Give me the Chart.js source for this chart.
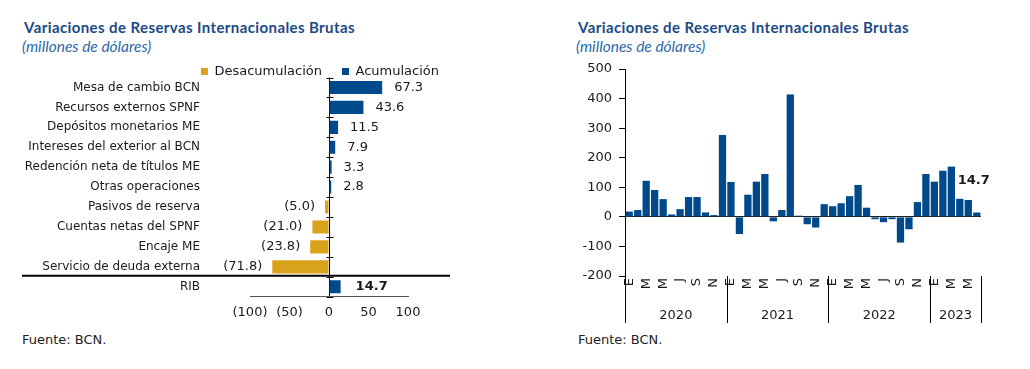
<!DOCTYPE html>
<html><head><meta charset="utf-8">
<script src="https://cdn.jsdelivr.net/npm/chart.js@4/dist/chart.umd.min.js"></script>
<style>
html,body{margin:0;padding:0;background:#fff;width:1030px;height:369px;overflow:hidden;position:relative;}
.t{position:absolute;font-family:Lato,"Open Sans",sans-serif;font-weight:700;font-size:15px;color:#1b4a86;letter-spacing:0.4px;white-space:nowrap;line-height:15px}
.s{position:absolute;font-family:Lato,sans-serif;font-style:italic;font-size:15.5px;color:#2e6aa9;white-space:nowrap;line-height:16px}
.f{position:absolute;font-family:"DejaVu Sans";font-size:13px;color:#222;white-space:nowrap;line-height:13px}
canvas{position:absolute;top:0}
</style></head><body>
<div class="t" style="left:24px;top:20px">Variaciones de Reservas Internacionales Brutas</div>
<div class="s" style="left:22px;top:38px">(millones de dólares)</div>
<div class="t" style="left:578px;top:20px">Variaciones de Reservas Internacionales Brutas</div>
<div class="s" style="left:576px;top:38px">(millones de dólares)</div>
<div class="f" style="left:22px;top:333px">Fuente: BCN.</div>
<div class="f" style="left:578px;top:333px">Fuente: BCN.</div>
<canvas id="cl" width="470" height="369" style="left:0"></canvas>
<canvas id="cr" width="460" height="369" style="left:570px"></canvas>
<script>
// ---- Left chart data ----
const categories = ['Mesa de cambio BCN','Recursos externos SPNF','Depósitos monetarios ME','Intereses del exterior al BCN','Redención neta de títulos ME','Otras operaciones','Pasivos de reserva','Cuentas netas del SPNF','Encaje ME','Servicio de deuda externa','RIB'];
const values = [67.3, 43.6, 11.5, 7.9, 3.3, 2.8, -5.0, -21.0, -23.8, -71.8, 14.7];
const xTickValues = [-100, -50, 0, 50, 100];
const legendLabels = ['Desacumulación', 'Acumulación'];

// ---- Right chart data ----
const months = ['E','F','M','A','M','J','J','A','S','O','N','D',
                'E','F','M','A','M','J','J','A','S','O','N','D',
                'E','F','M','A','M','J','J','A','S','O','N','D',
                'E','F','M','A','M','J'];
const monthlyValues = [18, 23, 122, 91, 60, 8, 26, 67, 67, 15, 6, 277,
                       118, -58, 75, 119, 145, -15, 23, 414, 4, -25, -36, 43,
                       36, 46, 70, 108, 31, -8, -18, -8, -87, -42, 50, 145,
                       119, 156, 170, 61, 57, 14.7];
const years = ['2020', '2021', '2022', '2023'];
const monthsPerYear = [12, 12, 12, 6];
const yTickValues = [-200, -100, 0, 100, 200, 300, 400, 500];

const gold = '#d9a21b', blue = '#00498a', txt = '#1a1a1a';
Chart.defaults.font.family = '"DejaVu Sans", Verdana, sans-serif';
Chart.defaults.color = txt;

const fmt = v => v < 0 ? '(' + Math.abs(v).toFixed(1) + ')' : v.toFixed(1);

const leftPlugin = {
  id: 'leftDeco',
  afterDatasetsDraw(chart) {
    const {ctx, scales: {x, y}} = chart;
    const x0 = Math.round(x.getPixelForValue(0)) + 0.5;
    ctx.save();
    ctx.strokeStyle = '#000'; ctx.lineWidth = 1;
    for (let i = 0; i <= categories.length; i++) {
      const yy = Math.round(y.getPixelForValue(i - 0.5)) + 0.5;
      ctx.beginPath(); ctx.moveTo(x0 - 3, yy); ctx.lineTo(x0 + 4, yy); ctx.stroke();
    }
    const sy = (y.getPixelForValue(categories.length - 2) + y.getPixelForValue(categories.length - 1)) / 2 - 1;
    ctx.lineWidth = 2;
    ctx.beginPath(); ctx.moveTo(22, sy); ctx.lineTo(450, sy); ctx.stroke();
    ctx.fillStyle = txt; ctx.textBaseline = 'middle';
    values.forEach((v, i) => {
      const yy = y.getPixelForValue(i);
      const xe = x.getPixelForValue(v);
      const last = i === values.length - 1;
      ctx.font = (last ? 'bold ' : '') + '13px "DejaVu Sans"';
      if (v < 0) { ctx.textAlign = 'right'; ctx.fillText(fmt(v), xe - 10, yy); }
      else { ctx.textAlign = 'left'; ctx.fillText(fmt(v), xe + (last ? 15 : 12), yy); }
    });
    ctx.restore();
  }
};

new Chart(document.getElementById('cl'), {
  type: 'bar',
  data: {
    labels: categories,
    datasets: [
      {label: legendLabels[0], data: values.map(v => v < 0 ? v : null), backgroundColor: gold, grouped: false, barPercentage: 0.66, categoryPercentage: 1},
      {label: legendLabels[1], data: values.map(v => v >= 0 ? v : null), backgroundColor: blue, grouped: false, barPercentage: 0.66, categoryPercentage: 1}
    ]
  },
  options: {
    indexAxis: 'y', responsive: false, animation: false,
    layout: {padding: {left: 22, right: 11, top: 45, bottom: 0}},
    plugins: {
      legend: {position: 'top', align: 'end', maxHeight: 32.5,
        labels: {boxWidth: 7, boxHeight: 7, padding: 20, color: txt, font: {size: 13}}},
      tooltip: {enabled: false}
    },
    scales: {
      x: {type: 'linear', min: -100, max: 100,
        afterBuildTicks: s => { s.ticks = xTickValues.map(v => ({value: v})); },
        ticks: {callback: v => v < 0 ? '(' + Math.abs(v) + ')' : String(v), padding: 8, font: {size: 13}, color: txt,
          autoSkip: false, maxRotation: 0, minRotation: 0},
        grid: {drawTicks: false, color: c => (c.tick && c.tick.value === 0) ? '#000' : 'rgba(0,0,0,0)'},
        border: {display: true, color: '#555'},
        afterFit: s => { s.height = 369 - 296.7; }
      },
      y: {type: 'category',
        grid: {display: false, drawTicks: false}, border: {display: false},
        ticks: {padding: 50, font: {size: 12}, color: txt},
        afterFit: s => { s.width = 228; }
      },
      yR: {type: 'category', position: 'right',
        grid: {display: false, drawTicks: false}, border: {display: false},
        ticks: {display: false},
        afterFit: s => { s.width = 51; }
      }
    }
  },
  plugins: [leftPlugin]
});

const rightPlugin = {
  id: 'rightDeco',
  afterDraw(chart) {
    const {ctx, chartArea: ca, scales: {x, y}} = chart;
    ctx.save();
    ctx.strokeStyle = '#000'; ctx.lineWidth = 1;
    const bounds = [ca.left];
    let idx = 0;
    monthsPerYear.forEach(n => { idx += n; bounds.push(idx >= months.length ? ca.right : (x.getPixelForValue(idx - 1) + x.getPixelForValue(idx)) / 2); });
    const yBot = 323;
    bounds.forEach(b => {
      const bx = Math.round(b) + 0.5;
      ctx.beginPath(); ctx.moveTo(bx, ca.bottom); ctx.lineTo(bx, yBot); ctx.stroke();
    });
    ctx.fillStyle = txt; ctx.font = '13px "DejaVu Sans"';
    ctx.textAlign = 'center'; ctx.textBaseline = 'middle';
    years.forEach((yr, i) => ctx.fillText(yr, (bounds[i] + bounds[i + 1]) / 2, 316));
    const meta = chart.getDatasetMeta(0);
    const lastBar = meta.data[meta.data.length - 1];
    ctx.font = 'bold 13px "DejaVu Sans"';
    ctx.fillText(fmt(monthlyValues[monthlyValues.length - 1]), lastBar.x - 3, lastBar.y - 32);
    ctx.restore();
  }
};

new Chart(document.getElementById('cr'), {
  type: 'bar',
  data: {labels: months, datasets: [{data: monthlyValues, backgroundColor: blue, barPercentage: 0.86, categoryPercentage: 1}]},
  options: {
    responsive: false, animation: false,
    layout: {padding: {left: 0, right: 49, top: 69, bottom: 0}},
    plugins: {legend: {display: false}, tooltip: {enabled: false}},
    scales: {
      x: {grid: {display: false, drawTicks: false}, border: {display: false},
        ticks: {autoSkip: false, minRotation: 90, maxRotation: 90, padding: 2,
          callback: (v, i) => i % 2 === 0 ? months[i] : '', font: {size: 13}, color: txt},
        afterFit: s => { s.height = 369 - 276; }
      },
      y: {min: -200, max: 500, z: 1,
        afterBuildTicks: s => { s.ticks = yTickValues.map(v => ({value: v})); },
        ticks: {padding: 7, font: {size: 13}, color: txt},
        grid: {tickLength: 6, tickColor: '#000', color: c => (c.tick && c.tick.value === 0) ? '#222' : 'rgba(0,0,0,0)'},
        border: {display: true, color: '#000'},
        afterFit: s => { s.width = 55; }
      }
    }
  },
  plugins: [rightPlugin]
});
</script>
</body></html>
